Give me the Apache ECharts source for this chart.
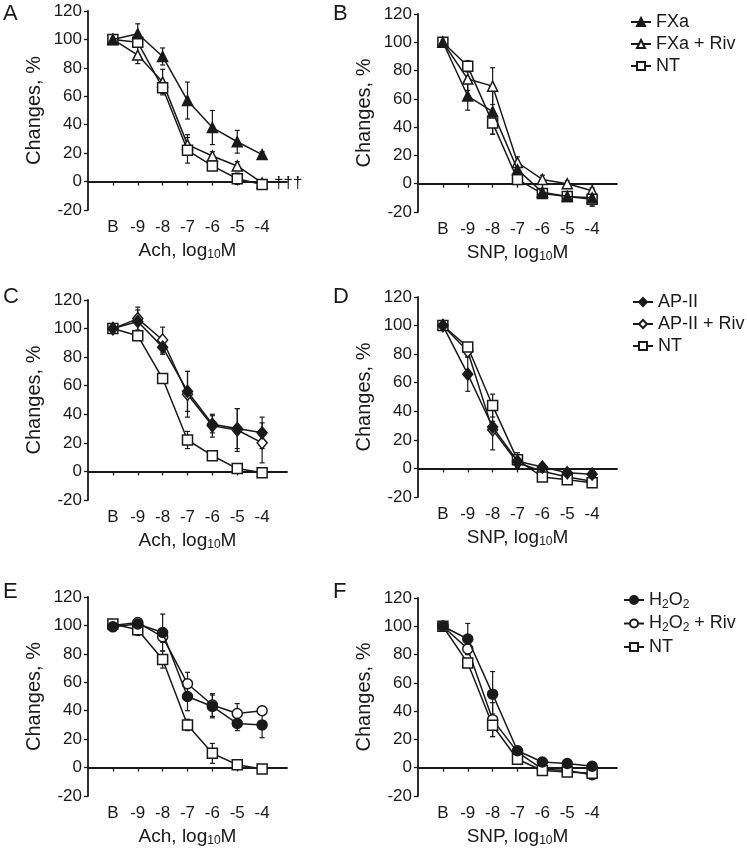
<!DOCTYPE html>
<html>
<head>
<meta charset="utf-8">
<script src="https://cdn.jsdelivr.net/npm/echarts@6/dist/echarts.min.js"></script>
<style>
  html, body { margin: 0; padding: 0; background: #fff; }
  #main { width: 747px; height: 851px; }
</style>
</head>
<body>
<div id="main"></div>
<script>
// x positions of the concentrations and their labels
const xPos = [1, 2, 3, 4, 5, 6, 7]
const tickLabels = ['B', '-9', '-8', '-7', '-6', '-5', '-4']

// A: Ach, FXa
const aFXa = [100, 104, 88, 57, 38, 28, 19]
const aFXaErr = [0, 7, 6, 13, 12, 8, 2]
const aFXaRiv = [100, 89, 70, 26, 18, 11, -1]
const aFXaRivErr = [0, 6, 9, 7, 3, 3, 2]
const aNT = [100, 98, 66, 22, 11, 2, -2]
const aNTErr = [0, 3, 4, 9, 3, 4, 3]

// B: SNP, FXa
const bFXa = [100, 62, 51, 10, -6, -9, -10]
const bFXaErr = [0, 10, 16, 3, 2, 3, 6]
const bFXaRiv = [100, 74, 69, 15, 3, 0, -5]
const bFXaRivErr = [0, 8, 13, 4, 3, 2, 2]
const bNT = [100, 83, 43, 3, -7, -9, -11]
const bNTErr = [0, 4, 8, 2, 2, 3, 4]

// C: Ach, AP-II
const cAP = [100, 105, 87, 56, 33, 30, 27]
const cAPErr = [0, 8, 5, 14, 6, 14, 11]
const cAPRiv = [100, 107, 92, 54, 32, 29, 20]
const cAPRivErr = [0, 8, 9, 16, 8, 15, 14]
const cNT = [100, 95, 65, 22, 11, 2, -1]
const cNTErr = [0, 3, 3, 6, 2, 2, 1]

// D: SNP, AP-II
const dAP = [100, 66, 29, 5, 1, -3, -4]
const dAPErr = [0, 12, 4, 3, 2, 2, 2]
const dAPRiv = [100, 82, 27, 4, -2, -6, -9]
const dAPRivErr = [0, 4, 14, 3, 2, 2, 2]
const dNT = [100, 85, 44, 6, -6, -8, -10]
const dNTErr = [0, 3, 8, 5, 2, 2, 2]

// E: Ach, H2O2
const eH = [99, 101, 95, 50, 43, 31, 30]
const eHErr = [0, 2, 13, 10, 8, 5, 9]
const eHRiv = [100, 102, 92, 59, 44, 38, 40]
const eHRivErr = [0, 2, 4, 8, 8, 7, 3]
const eNT = [101, 97, 76, 30, 10, 2, -1]
const eNTErr = [0, 4, 6, 4, 7, 3, 3]

// F: SNP, H2O2
const fH = [100, 91, 52, 12, 4, 3, 1]
const fHErr = [0, 11, 16, 2, 2, 2, 2]
const fHRiv = [100, 84, 34, 11, -1, -2, -5]
const fHRivErr = [0, 4, 12, 2, 2, 2, 2]
const fNT = [100, 74, 30, 6, -2, -3, -4]
const fNTErr = [0, 3, 8, 2, 2, 2, 2]

const ink = '#1a1a1a'
const font = 'Liberation Sans, Arial, sans-serif'

// grid boxes for A..F
const grids = [
  { left: 88, top: 11, width: 199, height: 199 },
  { left: 418, top: 14, width: 199, height: 198 },
  { left: 88, top: 300, width: 199, height: 200 },
  { left: 418, top: 297, width: 199, height: 200 },
  { left: 88, top: 597, width: 199, height: 199 },
  { left: 418, top: 598, width: 199, height: 198 }
]
const xNames = ['Ach', 'SNP', 'Ach', 'SNP', 'Ach', 'SNP']

const subStyle = { fontFamily: font, fontSize: 12, color: ink, padding: [9, 0, 0, 0] }

const xAxes = grids.map((g, i) => ({
  type: 'value', gridIndex: i, min: 0, max: 8,
  name: xNames[i] + ', log{sub|10}M', nameLocation: 'middle', nameGap: 30,
  nameTextStyle: { fontFamily: font, fontSize: 19, color: ink, rich: { sub: subStyle } },
  axisLine: { lineStyle: { color: ink, width: 1.8 } },
  axisTick: { show: true, length: 4, customValues: xPos, lineStyle: { color: ink, width: 1.3 } },
  axisLabel: {
    customValues: xPos, margin: 9, fontFamily: font, fontSize: 17, color: ink,
    formatter: v => tickLabels[v - 1]
  },
  splitLine: { show: false }
}))

const yAxes = grids.map((g, i) => ({
  type: 'value', gridIndex: i, min: -20, max: 120, interval: 20,
  name: 'Changes, %', nameLocation: 'middle', nameGap: 44,
  nameTextStyle: { fontFamily: font, fontSize: 20, color: ink },
  axisLine: { show: true, lineStyle: { color: ink, width: 1.8 } },
  axisTick: { show: true, length: 4, lineStyle: { color: ink, width: 1.3 } },
  axisLabel: { margin: 6, fontFamily: font, fontSize: 17, color: ink },
  splitLine: { show: false }
}))

function lineSeries(name, vals, idx, symbol, filled) {
  return {
    type: 'line', name: name, xAxisIndex: idx, yAxisIndex: idx,
    data: vals.map((v, k) => [xPos[k], v]),
    symbol: symbol,
    symbolSize: symbol === 'diamond' ? [10, 12] : 10,
    showSymbol: true,
    lineStyle: { color: ink, width: 1.5 },
    itemStyle: { color: filled ? ink : '#fff', borderColor: ink, borderWidth: 1.5 },
    z: filled ? 4 : 3,
    animation: false
  }
}

function renderErr(params, api) {
  const x = api.value(0), y = api.value(1), e = api.value(2)
  const top = api.coord([x, y + e])
  const bot = api.coord([x, y - e])
  const st = { stroke: ink, lineWidth: 1.2 }
  return {
    type: 'group',
    children: [
      { type: 'line', shape: { x1: top[0], y1: top[1], x2: bot[0], y2: bot[1] }, style: st },
      { type: 'line', shape: { x1: top[0] - 2.5, y1: top[1], x2: top[0] + 2.5, y2: top[1] }, style: st },
      { type: 'line', shape: { x1: bot[0] - 2.5, y1: bot[1], x2: bot[0] + 2.5, y2: bot[1] }, style: st }
    ]
  }
}

function errSeries(vals, errs, idx) {
  const pts = []
  vals.forEach((v, k) => { if (errs[k] > 0) pts.push([xPos[k], v, errs[k]]) })
  return {
    type: 'custom', xAxisIndex: idx, yAxisIndex: idx,
    renderItem: renderErr, data: pts, z: 2, silent: true, animation: false,
    encode: { x: 0, y: 1 }
  }
}

const panels = [
  [['FXa', aFXa, aFXaErr, 'triangle', true], ['FXa + Riv', aFXaRiv, aFXaRivErr, 'triangle', false], ['NT', aNT, aNTErr, 'rect', false]],
  [['FXa', bFXa, bFXaErr, 'triangle', true], ['FXa + Riv', bFXaRiv, bFXaRivErr, 'triangle', false], ['NT', bNT, bNTErr, 'rect', false]],
  [['AP-II', cAP, cAPErr, 'diamond', true], ['AP-II + Riv', cAPRiv, cAPRivErr, 'diamond', false], ['NT', cNT, cNTErr, 'rect', false]],
  [['AP-II', dAP, dAPErr, 'diamond', true], ['AP-II + Riv', dAPRiv, dAPRivErr, 'diamond', false], ['NT', dNT, dNTErr, 'rect', false]],
  [['H2O2', eH, eHErr, 'circle', true], ['H2O2 + Riv', eHRiv, eHRivErr, 'circle', false], ['NT', eNT, eNTErr, 'rect', false]],
  [['H2O2', fH, fHErr, 'circle', true], ['H2O2 + Riv', fHRiv, fHRivErr, 'circle', false], ['NT', fNT, fNTErr, 'rect', false]]
]

const series = []
panels.forEach((p, i) => {
  p.forEach(s => {
    series.push(errSeries(s[1], s[2], i))
    series.push(lineSeries(s[0], s[1], i, s[3], s[4]))
  })
})

function legendAt(names, left, top) {
  return {
    data: names, orient: 'vertical', left: left, top: top,
    itemWidth: 20, itemHeight: 10, itemGap: 4,
    textStyle: { fontFamily: font, fontSize: 18, color: ink, rich: { sub: subStyle } },
    formatter: n => n.replace(/H2O2/, 'H{sub|2}O{sub|2}'),
    selectedMode: false
  }
}

const letters = [['A', 3, 3], ['B', 333, 3], ['C', 3, 286], ['D', 333, 286], ['E', 3, 581], ['F', 333, 581]]
const graphics = letters.map(l => ({
  type: 'text', left: l[1], top: l[2],
  style: { text: l[0], fontFamily: font, fontSize: 22, fill: ink }
}))
graphics.push({
  type: 'text', left: 274, top: 175,
  style: { text: '†††', fontFamily: font, fontSize: 17, fill: ink }
})

const chart = echarts.init(document.getElementById('main'), null, { renderer: 'canvas' })
chart.setOption({
  backgroundColor: '#fff',
  animation: false,
  grid: grids,
  xAxis: xAxes,
  yAxis: yAxes,
  legend: [
    legendAt(['FXa', 'FXa + Riv', 'NT'], 625, 8),
    legendAt(['AP-II', 'AP-II + Riv', 'NT'], 627, 288),
    legendAt(['H2O2', 'H2O2 + Riv', 'NT'], 618, 586)
  ],
  graphic: graphics,
  series: series
})
</script>
</body>
</html>
